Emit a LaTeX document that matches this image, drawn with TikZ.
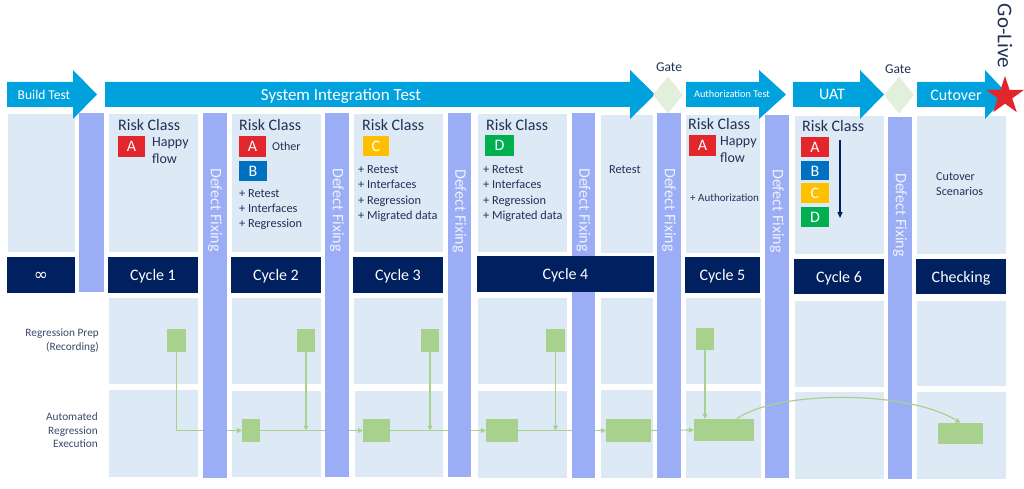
\documentclass[tikz,border=0pt]{standalone}
\usepackage{fontspec}
\setmainfont{Carlito}
\newfontfamily\dejavu{DejaVu Sans}
\usetikzlibrary{shapes.geometric,arrows.meta,fit,calc}
\definecolor{arrowblue}{HTML}{00A2DE}
\definecolor{cellblue}{HTML}{DDE9F5}
\definecolor{dfpurple}{HTML}{9BAEF5}
\definecolor{dftxt}{HTML}{EEF2FD}
\definecolor{navy}{HTML}{002060}
\definecolor{gfill}{HTML}{A9D18E}
\definecolor{gatefill}{HTML}{E2EFDA}
\definecolor{riskred}{HTML}{E3262B}
\definecolor{riskblue}{HTML}{0070C0}
\definecolor{riskyellow}{HTML}{FFC000}
\definecolor{riskgreen}{HTML}{00B050}
\definecolor{txt}{HTML}{213155}
\definecolor{lbl}{HTML}{3B4A6B}
\definecolor{starred}{HTML}{E3262B}
\newcommand\fsz[1]{\fontsize{#1}{#1}\selectfont}
\newcommand\rect[6]{\node[#6, fit={(#2,#3) (#4,#5)}] (#1) {};}
% box with centred white label: name, x1,y1,x2,y2, style, text, baseline offset
\newcommand\trect[8]{\node[#6, fit={(#2,#3) (#4,#5)}] (#1) {};
  \node[boxlabel] (#1t) at ($(#1.center)+(0,#8)$) {#7};}
\begin{document}
\begin{tikzpicture}[x=1pt,y=-1pt,
  cell/.style={draw=white, line width=0.8pt, fill=cellblue, inner sep=0pt},
  dfbar/.style={fill=dfpurple, draw=none, inner sep=0pt},
  darkbox/.style={fill=navy, draw=none, inner sep=0pt},
  gbox/.style={fill=gfill, draw=none, inner sep=0pt},
  gline/.style={draw=gfill, line width=1.2pt},
  gtip/.style={-{Triangle[length=5pt,width=5pt]}},
  risk/.style={draw=none, inner sep=0pt},
  boxlabel/.style={text=white, font=\fsz{16}, inner sep=0pt, anchor=base},
  phase/.style={fill=arrowblue, draw=none},
  ptext/.style={text=white, inner sep=0pt, anchor=base},
  dftext/.style={rotate=-90, text=dftxt, font=\fsz{16}, inner sep=0pt},
  ct/.style={text=txt, inner sep=0pt, anchor=base west},
  rl/.style={text=lbl, inner sep=0pt, anchor=base east, font=\fsz{11.3}},
]
\useasboundingbox (0,0) rectangle (1024,489);
\fill[white] (0,0) rectangle (1024,489);

% ---------- upper cells ----------
\rect{c0}{7}{113}{75}{252}{cell}
\rect{c1}{108}{113}{198}{252}{cell}
\rect{c2}{231}{113}{321}{252}{cell}
\rect{c3}{353}{113}{443}{252}{cell}
\rect{c4}{477}{113}{567}{252}{cell}
\rect{c5}{600}{114}{653}{253}{cell}
\rect{c6}{685}{114}{760}{253}{cell}
\rect{c7}{794}{115}{884}{254}{cell}
\rect{c8}{916}{115}{1006}{254}{cell}

% ---------- prep row cells ----------
\rect{r1}{108}{297}{198}{384}{cell}
\rect{r2}{231}{297}{321}{384}{cell}
\rect{r3}{353}{297}{443}{384}{cell}
\rect{r4}{477}{297}{567}{384}{cell}
\rect{r5}{600}{297}{653}{384}{cell}
\rect{r6}{685}{297}{761}{384}{cell}
\rect{r7}{794}{300}{884}{387}{cell}
\rect{r8}{916}{300}{1006}{386}{cell}

% ---------- execution row cells ----------
\rect{x1}{108}{389}{198}{477}{cell}
\rect{x2}{231}{390}{321}{477}{cell}
\rect{x3}{354}{390}{443}{477}{cell}
\rect{x4}{477}{390}{567}{478}{cell}
\rect{x5}{600}{389}{653}{478}{cell}
\rect{x6}{685}{390}{761}{478}{cell}
\rect{x7}{794}{391}{884}{479}{cell}
\rect{x8}{916}{391}{1006}{479}{cell}

% ---------- green boxes ----------
\rect{p1}{167}{329}{186}{352}{gbox}
\rect{p2}{297}{329}{315}{352}{gbox}
\rect{p3}{421}{329}{439}{352}{gbox}
\rect{p4}{546}{329}{565}{352}{gbox}
\rect{p6}{696}{328}{714}{350}{gbox}
\rect{e2}{242}{419}{260}{442}{gbox}
\rect{e3}{363}{419}{390}{442}{gbox}
\rect{e4}{486}{419}{518}{442}{gbox}
\rect{e5}{606}{419}{651}{442}{gbox}
\rect{e6}{694}{419}{754}{441}{gbox}
\rect{e8}{938}{423}{983}{444}{gbox}

% ---------- straight connectors ----------
\draw[gline,gtip] (p1.south) |- (e2.west);
\draw[gline,gtip] (p2.south) -- (p2.south |- e2.east);
\draw[gline,gtip] (e2.east) -- (e3.west);
\draw[gline,gtip] (p3.south) -- (p3.south |- e3.east);
\draw[gline,gtip] (e3.east) -- (e4.west);
\draw[gline,gtip] (p4.south) -- (p4.south |- e4.east);
\draw[gline,gtip] (e4.east) -- (e5.west);
\draw[gline,gtip] (e5.east) -- (e6.west);
\draw[gline,gtip] (p6.south) -- (p6.south |- e6.north);

% ---------- defect fixing bars ----------
\rect{b0}{79}{113}{104}{292}{dfbar}
\rect{b1}{203}{113}{227}{478}{dfbar}
\rect{b2}{325}{113}{349}{477}{dfbar}
\rect{b3}{448}{113}{471}{477}{dfbar}
\rect{b4}{572}{113}{595}{478}{dfbar}
\rect{b5}{657}{113}{681}{478}{dfbar}
\rect{b6}{765}{115}{789}{478}{dfbar}
\rect{b7}{888}{117}{912}{479}{dfbar}
\node[dftext] (d1) at (215,210) {Defect Fixing};
\node[dftext] (d2) at (337,210) {Defect Fixing};
\node[dftext] (d3) at (459.5,211) {Defect Fixing};
\node[dftext] (d4) at (583.5,210) {Defect Fixing};
\node[dftext] (d5) at (669,210) {Defect Fixing};
\node[dftext] (d6) at (777,211) {Defect Fixing};
\node[dftext] (d7) at (900,215) {Defect Fixing};

% ---------- dark cycle boxes ----------
\trect{k0}{7}{257}{75}{293}{darkbox}{{\dejavu\fsz{17}\char"221E}}{5}
\trect{k1}{108}{257}{198}{293}{darkbox}{Cycle 1}{5}
\trect{k2}{231}{257}{321}{293}{darkbox}{Cycle 2}{5}
\trect{k3}{353}{257}{443}{293}{darkbox}{Cycle 3}{5}
\trect{k4}{477}{256}{654}{292}{darkbox}{Cycle 4}{5}
\trect{k5}{685}{257}{760}{293}{darkbox}{Cycle 5}{5}
\trect{k6}{794}{259}{884}{294}{darkbox}{Cycle 6}{5.5}
\trect{k7}{916}{259}{1006}{294}{darkbox}{Checking}{5.5}

% ---------- curved connector ----------
\draw[gline,gtip] ($(e6.north west)+(43,0)$) .. controls (775,391) and (905,389) .. (e8.north);

% ---------- cell texts ----------
% column 1
\node[ct,font=\fsz{16}] (t1a) at (118,130.7) {Risk Class};
\trect{a1}{118}{136}{145}{157}{risk,fill=riskred}{A}{5.5}
\node[ct,font=\fsz{14}] (t1b) at (152,147) {Happy};
\node[ct,font=\fsz{14}] (t1c) at (152,163.5) {flow};
% column 2
\node[ct,font=\fsz{16}] (t2a) at (239,130.7) {Risk Class};
\trect{a2}{239}{136}{266}{157}{risk,fill=riskred}{A}{5.5}
\node[ct,font=\fsz{12}] (t2b) at (272,150) {Other};
\trect{b2x}{239}{161}{267}{181}{risk,fill=riskblue}{B}{5.5}
\node[ct,font=\fsz{12.3}] (t2c) at (239,197.7) {+ Retest};
\node[ct,font=\fsz{12.3}] (t2d) at (239,212.7) {+ Interfaces};
\node[ct,font=\fsz{12.3}] (t2e) at (239,227.5) {+ Regression};
% column 3
\node[ct,font=\fsz{16}] (t3a) at (362,130.7) {Risk Class};
\trect{cc3}{363}{136}{389}{156}{risk,fill=riskyellow}{C}{5.5}
\node[ct,font=\fsz{12.3}] (t3b) at (358,174) {+ Retest};
\node[ct,font=\fsz{12.3}] (t3c) at (358,189) {+ Interfaces};
\node[ct,font=\fsz{12.3}] (t3d) at (358,204) {+ Regression};
\node[ct,font=\fsz{12.3}] (t3e) at (358,219) {+ Migrated data};
% column 4
\node[ct,font=\fsz{16}] (t4a) at (486,130.7) {Risk Class};
\trect{dd4}{485}{135}{514}{156}{risk,fill=riskgreen}{D}{5.5}
\node[ct,font=\fsz{12.3}] (t4b) at (483,174) {+ Retest};
\node[ct,font=\fsz{12.3}] (t4c) at (483,189) {+ Interfaces};
\node[ct,font=\fsz{12.3}] (t4d) at (483,204) {+ Regression};
\node[ct,font=\fsz{12.3}] (t4e) at (483,219) {+ Migrated data};
% column 5
\node[ct,font=\fsz{12.3}] (t5a) at (609,174) {Retest};
% column 6
\node[ct,font=\fsz{16}] (t6a) at (688,130) {Risk Class};
\trect{a6}{689}{135}{716}{156}{risk,fill=riskred}{A}{5.5}
\node[ct,font=\fsz{14}] (t6b) at (720,146) {Happy};
\node[ct,font=\fsz{14}] (t6c) at (720,162.7) {flow};
\node[ct,font=\fsz{11}] (t6d) at (690,201) {+ Authorization};
% column 7
\node[ct,font=\fsz{16}] (t7a) at (802,132) {Risk Class};
\trect{a7}{801}{137}{829}{157}{risk,fill=riskred}{A}{5.5}
\trect{b7x}{801}{161}{829}{180}{risk,fill=riskblue}{B}{5.5}
\trect{c7x}{801}{183}{829}{203}{risk,fill=riskyellow}{C}{5.5}
\trect{d7x}{801}{207}{829}{227}{risk,fill=riskgreen}{D}{5.5}
\coordinate (ar7s) at (840,140);
\coordinate (ar7e) at (840,218);
\draw[navy, line width=1.3pt, -{Triangle[length=6pt,width=5pt]}] (ar7s) -- (ar7e);
% column 8
\node[ct,font=\fsz{12.1}] (t8a) at (936,181) {Cutover};
\node[ct,font=\fsz{12.1}] (t8b) at (936,195) {Scenarios};

% ---------- row labels ----------
\node[rl] (l1) at (99,336.7) {Regression Prep};
\node[rl] (l2) at (99,350) {(Recording)};
\node[rl] (l3) at (98,420) {Automated};
\node[rl] (l4) at (98,434) {Regression};
\node[rl] (l5) at (98,447.3) {Execution};

% ---------- phase arrows ----------
\fill[phase] (7,82) -- (73,82) -- (73,70) -- (97,94.5) -- (73,119) -- (73,107) -- (7,107) -- cycle;
\fill[phase] (105,82) -- (630,82) -- (630,70) -- (655,94.5) -- (630,119) -- (630,107) -- (105,107) -- cycle;
\fill[phase] (686,82) -- (759,82) -- (759,70) -- (786,94.5) -- (759,119) -- (759,107) -- (686,107) -- cycle;
\fill[phase] (793,82) -- (860,82) -- (860,70) -- (884,94.5) -- (860,119) -- (860,107) -- (793,107) -- cycle;
\fill[phase] (917,82) -- (985,82) -- (985,70) -- (1008,94.5) -- (985,119) -- (985,107) -- (917,107) -- cycle;
\node[ptext,font=\fsz{13.5}] (ph1) at (44,99.3) {Build Test};
\node[ptext,font=\fsz{17}] (ph2) at (341,101) {System Integration Test};
\node[ptext,font=\fsz{10.3}] (ph3) at (732,97.5) {Authorization Test};
\node[ptext,font=\fsz{16}] (ph4) at (832,100) {UAT};
\node[ptext,font=\fsz{16}] (ph5) at (956,100.5) {Cutover};

% ---------- gates ----------
\node[diamond, fill=gatefill, draw=none, minimum width=30pt, minimum height=37pt, inner sep=0pt] (g1) at (668,95) {};
\node[diamond, fill=gatefill, draw=none, minimum width=30pt, minimum height=37pt, inner sep=0pt] (g2) at (899,95) {};
\node[text=txt, inner sep=0pt, anchor=base, font=\fsz{13.5}] (g1t) at (669,71.7) {Gate};
\node[text=txt, inner sep=0pt, anchor=base, font=\fsz{13.5}] (g2t) at (898,73.3) {Gate};

% ---------- go-live ----------
\node[star, star points=5, star point ratio=2.618, fill=starred, draw=none, minimum size=40pt, inner sep=0pt] (gl) at (1005,96) {};
\node[rotate=-90, text=txt, inner sep=0pt, font=\fsz{21}] (glt) at (1005,36) {Go-Live};
\end{tikzpicture}
\end{document}
